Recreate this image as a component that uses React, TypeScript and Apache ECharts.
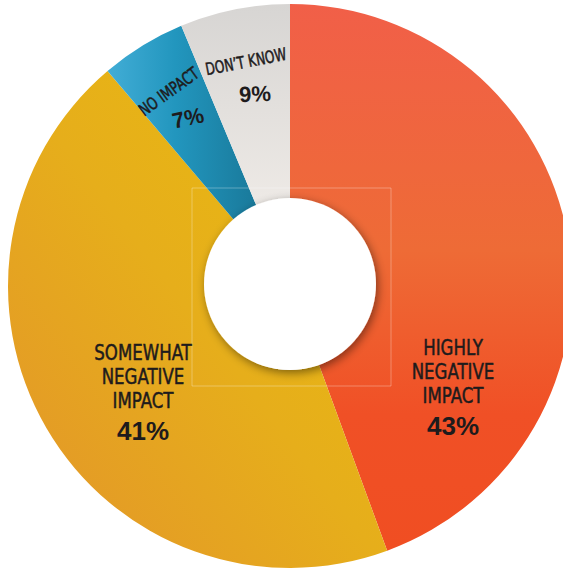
import React, { useEffect, useRef } from "react";
import * as echarts from "echarts";

// ---- data ----
const categories = ["HIGHLY NEGATIVE IMPACT", "SOMEWHAT NEGATIVE IMPACT", "NO IMPACT", "DON’T KNOW"];
const categoryLines = [
  ["HIGHLY", "NEGATIVE", "IMPACT"],
  ["SOMEWHAT", "NEGATIVE", "IMPACT"],
  ["NO IMPACT"],
  ["DON’T KNOW"],
];
const percentLabels = ["43%", "41%", "7%", "9%"];
// slice shares as drawn in the picture (degrees of arc / 3.6)
const sliceShares = [44.4, 44.4, 4.9, 6.3];

// ---- styles / layout ----
const CX = 290;
const CY = 286;
const R_OUT = 282;
const R_IN = 84;

const sliceColors = [
  new echarts.graphic.LinearGradient(0, 0, 0, 1, [
    { offset: 0, color: "#F15F48" },
    { offset: 0.45, color: "#EE6B36" },
    { offset: 0.75, color: "#F05026" },
    { offset: 1, color: "#F04E22" },
  ]),
  new echarts.graphic.LinearGradient(1, 0, 0, 1, [
    { offset: 0, color: "#E9BD0D" },
    { offset: 0.5, color: "#E6AE1B" },
    { offset: 1, color: "#E3932B" },
  ]),
  new echarts.graphic.LinearGradient(0, 0, 1, 0, [
    { offset: 0, color: "#42ADD6" },
    { offset: 0.45, color: "#2296BE" },
    { offset: 1, color: "#19799A" },
  ]),
  new echarts.graphic.LinearGradient(0, 0, 0, 1, [
    { offset: 0, color: "#D7D5D3" },
    { offset: 1, color: "#EEEAE6" },
  ]),
];

const labelLayout = [
  { x: 453, y: 371, rot: 0, size: 22, sx: 0.84, lh: 24, px: 453, py: 426, prot: 0, psize: 26 },
  { x: 143, y: 376, rot: 0, size: 22, sx: 0.84, lh: 24, px: 143, py: 431, prot: 0, psize: 26 },
  { x: 169, y: 92, rot: 36, size: 17, sx: 0.82, lh: 20, px: 188, py: 118, prot: 12, psize: 22 },
  { x: 246, y: 62, rot: 11, size: 17, sx: 0.8, lh: 20, px: 255, py: 94, prot: 3, psize: 22 },
];

const TEXT_COLOR = "#1E1B1C";
const WORD_FONT = "'DejaVu Sans Condensed', 'DejaVu Sans', sans-serif";
const NUM_FONT = "'Liberation Sans', 'DejaVu Sans', sans-serif";

export default function App() {
  const ref = useRef<HTMLDivElement>(null);

  useEffect(() => {
    if (!ref.current) return;
    const chart = echarts.init(ref.current, undefined, { renderer: "svg" });

    const texts: any[] = [];
    categoryLines.forEach((lines, i) => {
      const l = labelLayout[i];
      texts.push({
        type: "text",
        x: l.x,
        y: l.y,
        rotation: (l.rot * Math.PI) / 180,
        scaleX: l.sx,
        z: 120,
        style: {
          text: lines.join("\n"),
          fill: TEXT_COLOR,
          stroke: TEXT_COLOR,
          lineWidth: 0.5,
          fontFamily: WORD_FONT,
          fontSize: l.size,
          fontWeight: "normal",
          lineHeight: l.lh,
          align: "center",
          verticalAlign: "middle",
        },
      });
      texts.push({
        type: "text",
        x: l.px,
        y: l.py,
        rotation: (l.prot * Math.PI) / 180,
        z: 120,
        style: {
          text: percentLabels[i],
          fill: TEXT_COLOR,
          fontFamily: NUM_FONT,
          fontSize: l.psize,
          fontWeight: "bold",
          align: "center",
          verticalAlign: "middle",
        },
      });
    });

    chart.setOption({
      animation: false,
      backgroundColor: "#ffffff",
      series: [
        {
          type: "pie",
          center: [CX, CY],
          radius: [R_IN, R_OUT],
          startAngle: 90,
          clockwise: true,
          silent: true,
          label: { show: false },
          labelLine: { show: false },
          itemStyle: { borderWidth: 0 },
          data: categories.map((name, i) => ({
            name,
            value: sliceShares[i],
            itemStyle: { color: sliceColors[i] },
          })),
        },
      ],
      graphic: [
        {
          type: "rect",
          z: 110,
          shape: { x: 192, y: 188, width: 199, height: 198 },
          style: { fill: "none", stroke: "rgba(255,255,255,0.3)", lineWidth: 1 },
        },
        {
          type: "circle",
          z: 115,
          shape: { cx: 290, cy: 284, r: 86 },
          style: {
            fill: "#ffffff",
            shadowBlur: 10,
            shadowOffsetX: 2,
            shadowOffsetY: 3,
            shadowColor: "rgba(0,0,0,0.45)",
          },
        },
        ...texts,
      ],
    });

    return () => chart.dispose();
  }, []);

  return (
    <div
      ref={ref}
      style={{ position: "absolute", left: 0, top: 0, width: 563, height: 568 }}
    />
  );
}
